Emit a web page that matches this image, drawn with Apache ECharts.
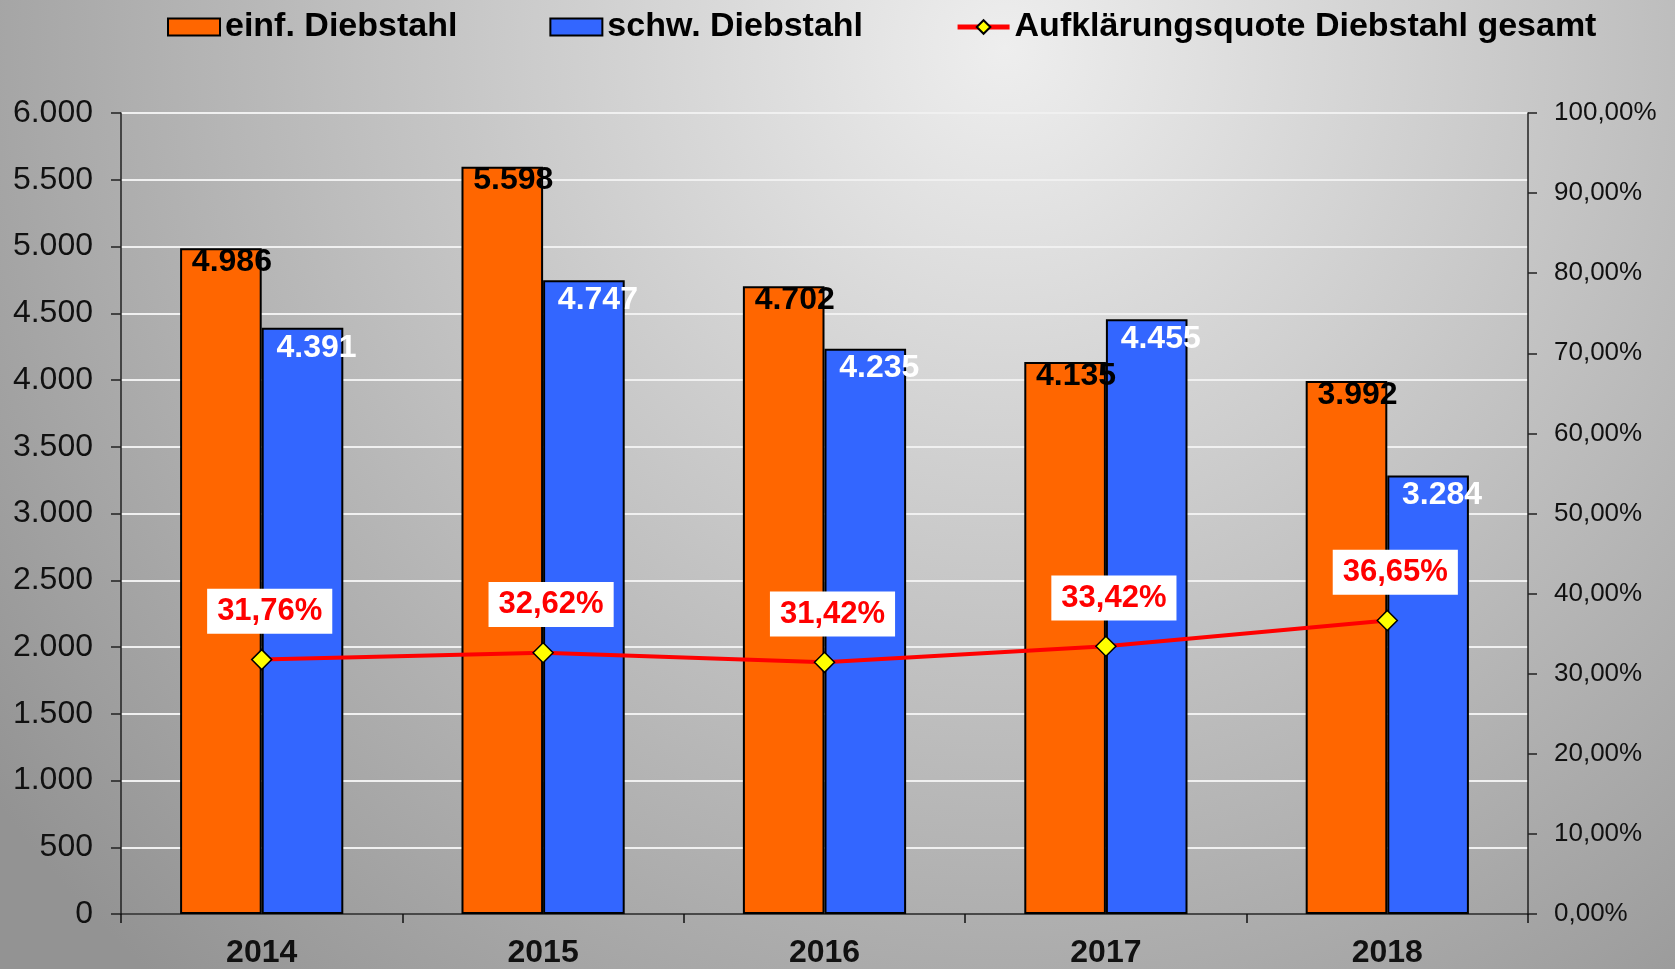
<!DOCTYPE html>
<html lang="de">
<head>
<meta charset="utf-8">
<title>Diebstahl 2014 - 2018</title>
<script src="https://cdn.jsdelivr.net/npm/echarts@6/dist/echarts.min.js"></script>
<style>
    html, body { margin: 0; padding: 0; }
    #chart { width: 1675px; height: 969px; }
</style>
</head>
<body>
<div id="chart"></div>
<script>
// Daten
const YEARS = ['2014', '2015', '2016', '2017', '2018'];
const EINF_DIEBSTAHL = [4986, 5598, 4702, 4135, 3992];
const SCHW_DIEBSTAHL = [4391, 4747, 4235, 4455, 3284];
const AUFKLAERUNGSQUOTE = [31.76, 32.62, 31.42, 33.42, 36.65];

const SERIES_NAMES = ['einf. Diebstahl', 'schw. Diebstahl', 'Aufklärungsquote Diebstahl gesamt'];

const FONT = '"Liberation Sans", Arial, sans-serif';

// 1000 -> "1.000"
function formatThousands(v) {
    return String(Math.round(v)).replace(/\B(?=(\d{3})+(?!\d))/g, '.');
}

// 31.76 -> "31,76%"
function formatPercent(v) {
    return v.toFixed(2).replace('.', ',') + '%';
}

function renderChart() {
    const chart = echarts.init(document.getElementById('chart'));

    const option = {
        animation: false,
        backgroundColor: {
            type: 'radial',
            x: 0.6,
            y: 0.05,
            r: 1.3,
            colorStops: [
                { offset: 0, color: '#eeeeee' },
                { offset: 1, color: '#939393' }
            ]
        },
        textStyle: { fontFamily: FONT },
        legend: {
            left: 162,
            top: 5,
            itemWidth: 52,
            itemHeight: 17,
            itemGap: 92,
            textStyle: {
                fontSize: 34,
                fontWeight: 'bold',
                color: '#000',
                fontFamily: FONT
            },
            data: [
                { name: SERIES_NAMES[0], icon: 'rect' },
                { name: SERIES_NAMES[1], icon: 'rect' },
                { name: SERIES_NAMES[2], lineStyle: { width: 5 } }
            ]
        },
        grid: {
            left: 121,
            right: 147,
            top: 113,
            bottom: 53
        },
        xAxis: {
            type: 'category',
            data: YEARS,
            axisLine: { lineStyle: { color: '#111', width: 1.5 } },
            axisTick: { show: true, length: 9, lineStyle: { color: '#111', width: 1.5 } },
            axisLabel: {
                margin: 23,
                fontSize: 32,
                fontWeight: 'bold',
                color: '#111',
                fontFamily: FONT
            }
        },
        yAxis: [
            {
                type: 'value',
                min: 0,
                max: 6000,
                interval: 500,
                axisLine: { show: true, lineStyle: { color: '#222', width: 1.5 } },
                axisTick: { show: true, length: 10, lineStyle: { color: '#222', width: 1.5 } },
                axisLabel: {
                    margin: 28,
                    fontSize: 32,
                    color: '#111',
                    fontFamily: FONT,
                    formatter: formatThousands
                },
                splitLine: { lineStyle: { color: '#f0f0f0', width: 2 } }
            },
            {
                type: 'value',
                min: 0,
                max: 100,
                interval: 10,
                position: 'right',
                axisLine: { show: true, lineStyle: { color: '#222', width: 1.5 } },
                axisTick: { show: true, length: 9, lineStyle: { color: '#222', width: 1.5 } },
                axisLabel: {
                    margin: 26,
                    fontSize: 26,
                    color: '#111',
                    fontFamily: FONT,
                    formatter: formatPercent
                },
                splitLine: { show: false }
            }
        ],
        series: [
            {
                name: SERIES_NAMES[0],
                type: 'bar',
                data: EINF_DIEBSTAHL,
                barGap: '0%',
                barCategoryGap: '42%',
                itemStyle: { color: '#ff6600', borderColor: '#000', borderWidth: 2 },
                label: {
                    show: true,
                    position: 'insideTop',
                    distance: 0,
                    offset: [11, -2],
                    fontSize: 32,
                    fontWeight: 'bold',
                    color: '#000',
                    fontFamily: FONT,
                    formatter: p => formatThousands(p.value)
                }
            },
            {
                name: SERIES_NAMES[1],
                type: 'bar',
                data: SCHW_DIEBSTAHL,
                itemStyle: { color: '#3366ff', borderColor: '#000', borderWidth: 2 },
                label: {
                    show: true,
                    position: 'insideTop',
                    distance: 0,
                    offset: [14, 4],
                    fontSize: 32,
                    fontWeight: 'bold',
                    color: '#fff',
                    fontFamily: FONT,
                    formatter: p => formatThousands(p.value)
                }
            },
            {
                name: SERIES_NAMES[2],
                type: 'line',
                yAxisIndex: 1,
                data: AUFKLAERUNGSQUOTE,
                symbol: 'diamond',
                symbolSize: 20,
                z: 5,
                itemStyle: { color: '#ffff00', borderColor: '#000', borderWidth: 1.5 },
                lineStyle: { color: '#ff0000', width: 4 },
                label: {
                    show: true,
                    position: 'top',
                    offset: [8, -10],
                    fontSize: 31,
                    fontWeight: 'bold',
                    color: '#ff0000',
                    fontFamily: FONT,
                    backgroundColor: '#fff',
                    padding: [7, 10],
                    formatter: p => formatPercent(p.value)
                }
            }
        ]
    };

    chart.setOption(option);
}

document.addEventListener('DOMContentLoaded', renderChart);
</script>
</body>
</html>
